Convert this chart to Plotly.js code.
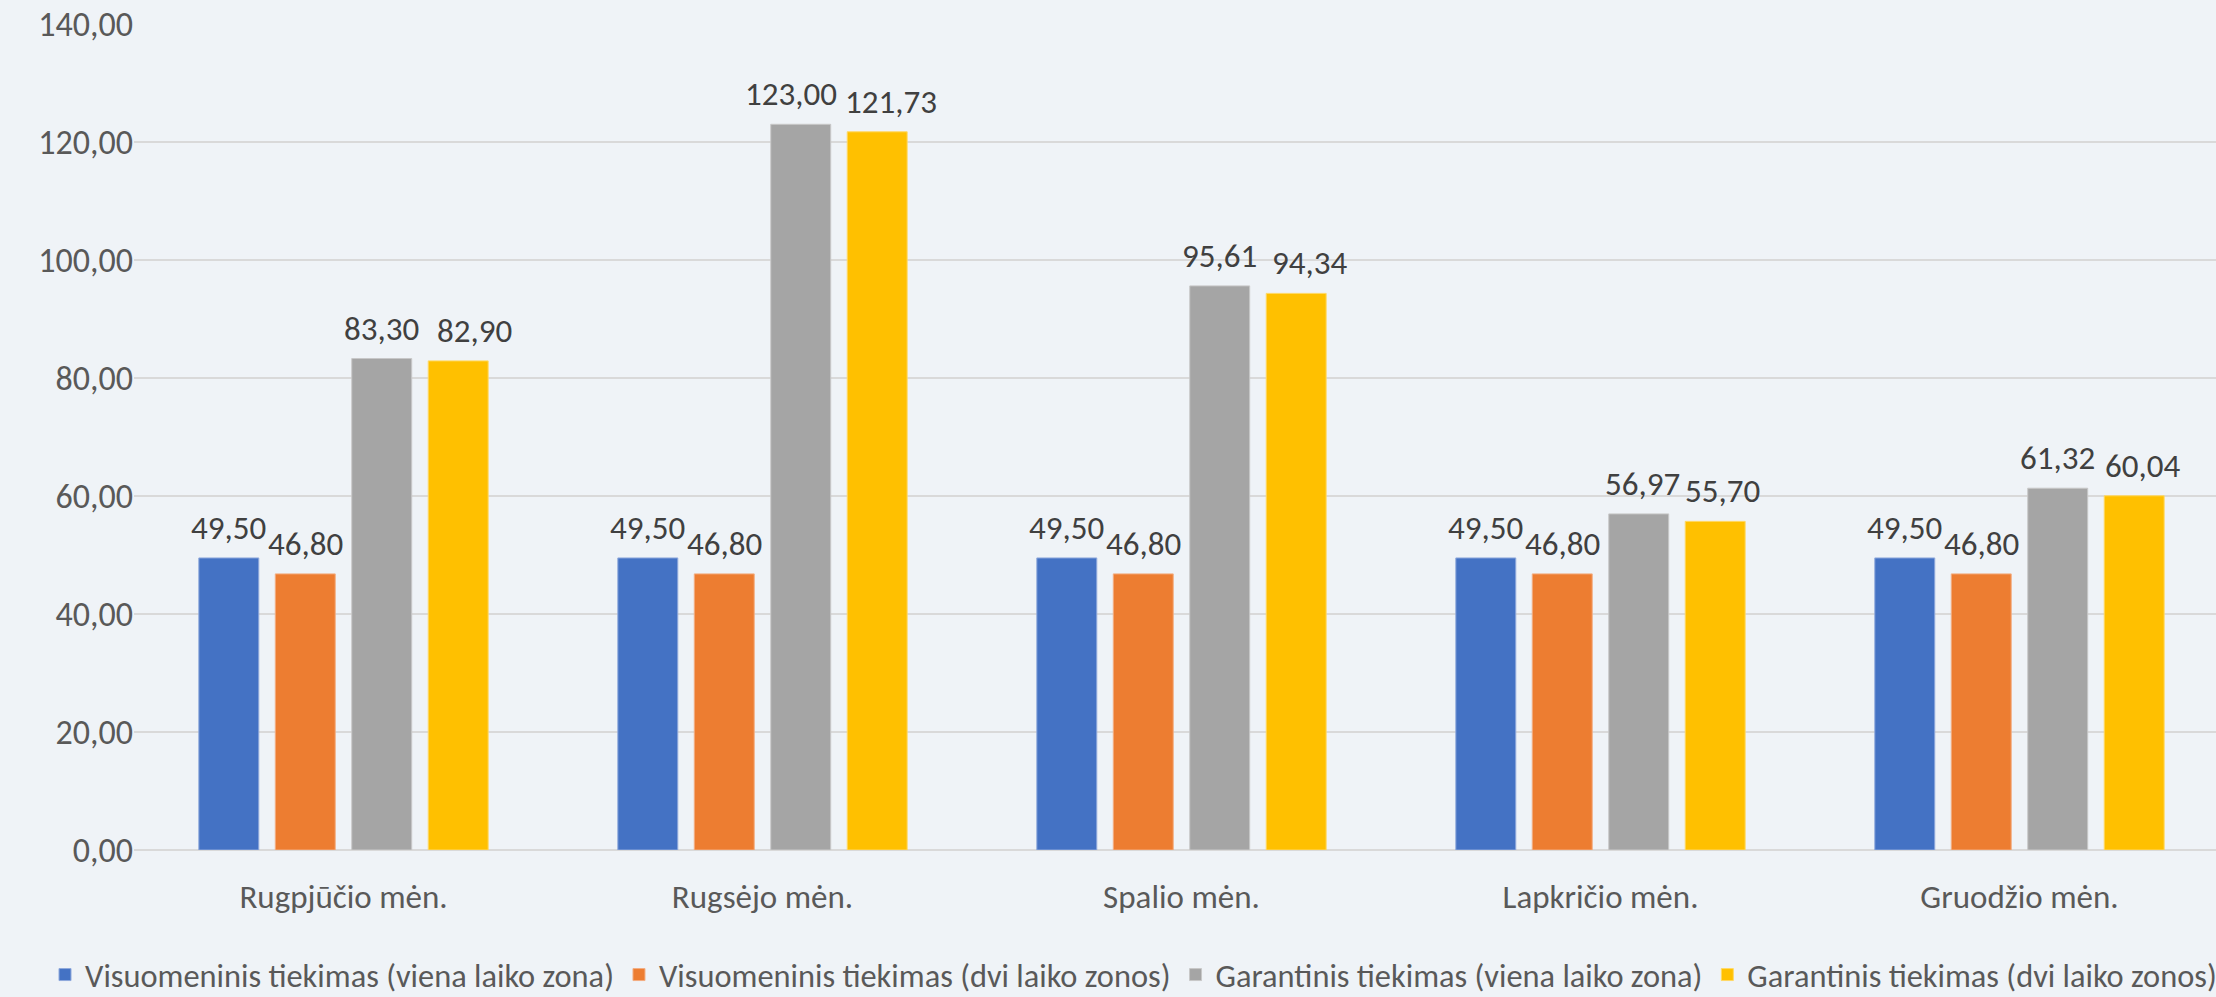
<!DOCTYPE html>
<html>
<head>
<meta charset="utf-8">
<script src="https://cdn.plot.ly/plotly-3.0.1.min.js"></script>
<style>
  html, body { margin: 0; padding: 0; background: #EFF3F7; }
  #chart { width: 2216px; height: 997px; }
</style>
</head>
<body>
<div id="chart"></div>
<script>
// ---- data ----
const categories = ["Rugpjūčio mėn.", "Rugsėjo mėn.", "Spalio mėn.", "Lapkričio mėn.", "Gruodžio mėn."];
const seriesNames = [
  "Visuomeninis tiekimas (viena laiko zona)",
  "Visuomeninis tiekimas (dvi laiko zonos)",
  "Garantinis tiekimas (viena laiko zona)",
  "Garantinis tiekimas (dvi laiko zonos)"
];
const visuomeninisViena = [49.50, 49.50, 49.50, 49.50, 49.50];
const visuomeninisDvi   = [46.80, 46.80, 46.80, 46.80, 46.80];
const garantinisViena   = [83.30, 123.00, 95.61, 56.97, 61.32];
const garantinisDvi     = [82.90, 121.73, 94.34, 55.70, 60.04];
const yTicks = [0, 20, 40, 60, 80, 100, 120, 140];

// ---- style ----
const colors = ["#4472C4", "#ED7D31", "#A5A5A5", "#FFC000"];
const lineColors = ["#8FA9DC", "#F3AE83", "#C8C8C8", "#FFD966"];
// small horizontal nudges (px) of the data labels, per series / category, as in the original
const labelNudge = [
  [0, 0, 0, 0, 0],
  [0, 0, 0, 0, 0],
  [0, -10, 0, 4, 0],
  [16, 14, 13, 7, 8]
];
const FONT = "Carlito, Calibri, Lato, sans-serif";
const W = 2216, H = 997;
const M = {l: 134, r: 0, t: 24, b: 147, autoexpand: false};
const xRange = [-0.5, 4.469];
const bargap = 0.27;
const bargroupgap = 0.216;

const allSeries = [visuomeninisViena, visuomeninisDvi, garantinisViena, garantinisDvi];

const traces = allSeries.map((vals, i) => ({
  type: "bar",
  name: seriesNames[i],
  x: categories,
  y: vals,
  marker: {color: colors[i], line: {color: lineColors[i], width: 1}},
  hoverinfo: "skip"
}));

// data labels as annotations, placed over each bar through the axis scale
const plotW = W - M.l - M.r;
const plotH = H - M.t - M.b;
const catPx = plotW / (xRange[1] - xRange[0]);
const slotPx = catPx * (1 - bargap) / allSeries.length;
const annotations = [];
allSeries.forEach((vals, i) => {
  const shift = (i - (allSeries.length - 1) / 2) * slotPx;
  vals.forEach((v, c) => {
    annotations.push({
      x: categories[c], y: v, xref: "x", yref: "y",
      text: v.toFixed(2).replace(".", ","),
      showarrow: false, yanchor: "bottom", xanchor: "center",
      xshift: shift + labelNudge[i][c], yshift: 8,
      font: {family: FONT, size: 33, color: "#404040"}
    });
  });
});

const layout = {
  width: W, height: H,
  margin: M,
  paper_bgcolor: "#EFF3F7",
  plot_bgcolor: "#EFF3F7",
  separators: ", ",
  barmode: "group",
  bargap: bargap,
  bargroupgap: bargroupgap,
  font: {family: FONT, size: 30, color: "#595959"},
  showlegend: true,
  xaxis: {
    range: xRange,
    showgrid: false,
    zeroline: false,
    showline: false,
    ticks: "",
    tickfont: {family: FONT, size: 33, color: "#595959"},
    ticklabelstandoff: 24,
    automargin: false,
    fixedrange: true
  },
  yaxis: {
    range: [0, 140],
    tickmode: "array",
    tickvals: yTicks,
    ticktext: yTicks.map(v => v.toFixed(2).replace(".", ",")),
    showgrid: true,
    gridcolor: "#D9D9D9",
    gridwidth: 2,
    zeroline: true,
    zerolinecolor: "#D9D9D9",
    zerolinewidth: 2,
    showline: false,
    ticks: "",
    tickfont: {family: FONT, size: 34, color: "#595959"},
    ticklabelstandoff: 0,
    automargin: false,
    fixedrange: true
  },
  legend: {
    orientation: "h",
    xref: "paper", yref: "paper",
    x: (45 - M.l) / plotW, xanchor: "left",
    y: -(975 - (H - M.b)) / plotH, yanchor: "middle",
    font: {family: FONT, size: 32.4, color: "#595959"},
    bgcolor: "rgba(0,0,0,0)",
    itemwidth: 30,
    traceorder: "normal"
  },
  annotations: annotations
};

Plotly.newPlot("chart", traces, layout, {displayModeBar: false, staticPlot: true});
</script>
</body>
</html>
